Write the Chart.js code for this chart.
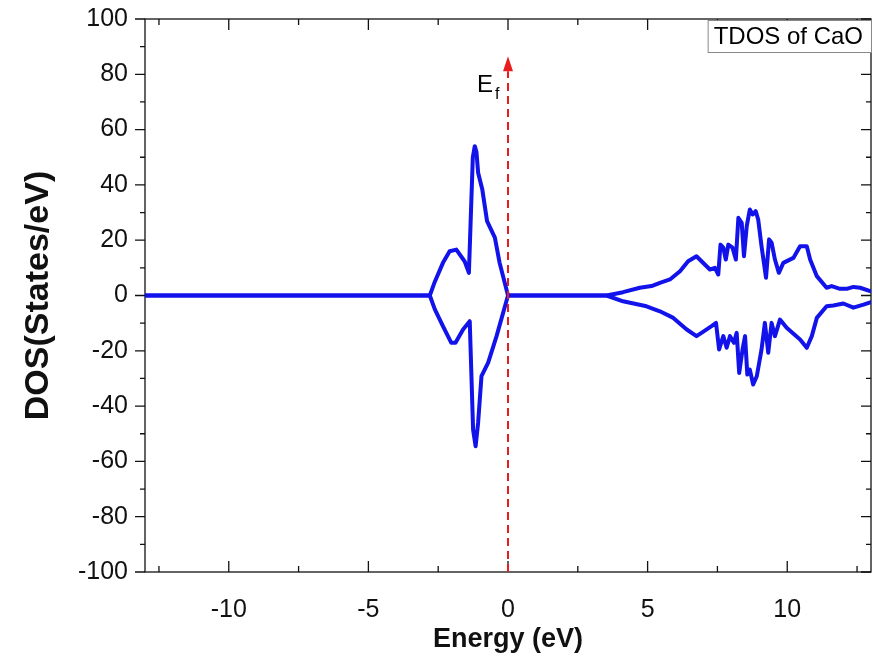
<!DOCTYPE html>
<html>
<head>
  <meta charset="utf-8">
  <title>TDOS of CaO</title>
  <script src="https://cdn.jsdelivr.net/npm/chart.js"></script>
  <style>
    html, body {
      margin: 0;
      padding: 0;
      background-color: #fff;
    }

    #wrap {
      width: 873px;
      height: 661px;
    }

    canvas {
      display: block;
    }
  </style>
</head>
<body>
  <div id="wrap"><canvas id="dosChart"></canvas></div>

  <script>
    // spin up channel (eV, states/eV)
    const energyUp = [-13, -2.80, -2.62, -2.33, -2.09, -1.85, -1.55, -1.40, -1.26, -1.19, -1.13, -1.07, -0.92, -0.75, -0.47, -0.30, 0,
      3.53, 4.12, 4.72, 5.14, 5.44, 5.80, 6.16, 6.45, 6.75, 6.93, 7.23, 7.41, 7.53, 7.61, 7.71, 7.80, 7.89, 8.04, 8.16, 8.25, 8.37, 8.45,
      8.55, 8.66, 8.76, 8.87, 8.96, 9.08, 9.24, 9.35, 9.44, 9.56, 9.70, 9.86, 10.22, 10.46, 10.70, 10.82, 11.06, 11.41, 11.59, 11.89,
      12.13, 12.37, 12.61, 12.97, 13];
    const dosUp = [0, 0, 5, 11.8, 16.0, 16.6, 12.3, 8.2, 50, 54, 52, 44.4, 38.3, 26.9, 20.9, 11.8, 0,
      0, 1.2, 2.8, 3.4, 4.6, 5.8, 8.8, 12.4, 14.2, 12.4, 9.4, 10.0, 7.6, 18.4, 17.3, 13.0, 18.4, 17.3, 13.0, 28.1, 26.3, 14.2,
      25.1, 31.1, 29.3, 30.5, 27.5, 17.8, 6.4, 20.3, 19.1, 13.0, 8.2, 11.8, 13.6, 17.8, 17.8, 13.0, 7.0, 2.8, 3.4, 2.4,
      2.4, 3.1, 2.8, 1.6, 1.5];

    // spin down channel
    const energyDown = [-13, -2.80, -2.62, -2.33, -2.03, -1.88, -1.61, -1.37, -1.25, -1.16, -1.07, -0.95, -0.71, -0.41, 0,
      3.53, 4.12, 4.96, 5.44, 5.92, 6.40, 6.75, 6.93, 7.29, 7.45, 7.56, 7.71, 7.83, 7.95, 8.09, 8.19, 8.28, 8.40, 8.49, 8.57,
      8.66, 8.78, 8.91, 9.08, 9.20, 9.32, 9.44, 9.56, 9.74, 9.98, 10.46, 10.70, 10.88, 11.06, 11.41, 11.65, 12.01, 12.37, 12.73, 13];
    const dosDown = [0, 0, -5, -11.1, -17.1, -17.1, -12.3, -9.3, -48.5, -54.5, -46, -29.2, -24.3, -14.7, 0,
      0, -2.1, -3.9, -5.7, -8.1, -12.3, -14.7, -13.5, -11.1, -9.9, -19.5, -14.7, -18.9, -14.7, -17.1, -13.5, -28.0, -19.5, -14.7, -28.6,
      -26.8, -32.2, -29.2, -19.5, -9.9, -20.7, -9.9, -14.7, -8.7, -11.7, -15.9, -18.9, -14.7, -8.1, -3.9, -3.6, -2.9, -4.4, -3.3, -2.4];

    const xMajorTicks = [-10, -5, 0, 5, 10];
    const xMinorTicks = [-12.5, -7.5, -2.5, 2.5, 7.5, 12.5];
    const yMajorTicks = [-100, -80, -60, -40, -20, 0, 20, 40, 60, 80, 100];
    const yMinorTicks = [-90, -70, -50, -30, -10, 10, 30, 50, 70, 90];

    const fermiLevel = 0;
    const fermiArrowTop = 86.5;
    const legendText = 'TDOS of CaO';

    const FONT = "'Liberation Sans', Arial, sans-serif";
    const BLUE = 'rgb(18, 18, 235)';
    const RED = 'rgb(232, 30, 30)';

    const toPoints = (xs, ys) => xs.map((x, i) => ({ x: x, y: ys[i] }));

    // box with ticks on all four sides (left outward, others inward)
    const framePlugin = {
      id: 'frame',
      beforeDatasetsDraw(chart) {
        const { ctx, chartArea: a, scales } = chart;
        const xs = scales.x, ys = scales.y;
        ctx.save();
        ctx.strokeStyle = '#111';
        ctx.lineWidth = 1.3;
        ctx.strokeRect(a.left, a.top, a.right - a.left, a.bottom - a.top);
        ctx.beginPath();
        const tickX = (vals, len) => vals.forEach(v => {
          const px = xs.getPixelForValue(v);
          ctx.moveTo(px, a.bottom); ctx.lineTo(px, a.bottom - len);
          ctx.moveTo(px, a.top); ctx.lineTo(px, a.top + len);
        });
        const tickY = (vals, len) => vals.forEach(v => {
          const py = ys.getPixelForValue(v);
          ctx.moveTo(a.left, py); ctx.lineTo(a.left - len, py);
          ctx.moveTo(a.right, py); ctx.lineTo(a.right - len, py);
        });
        tickX(xMajorTicks, 11);
        tickX(xMinorTicks, 6);
        tickY(yMajorTicks, 10);
        tickY(yMinorTicks, 5);
        ctx.stroke();
        ctx.restore();
      }
    };

    // dashed Fermi level with arrow head and E_f label
    const fermiPlugin = {
      id: 'fermi',
      afterDatasetsDraw(chart) {
        const { ctx, scales } = chart;
        const x = scales.x.getPixelForValue(fermiLevel);
        const yBottom = scales.y.getPixelForValue(scales.y.min);
        const yTip = scales.y.getPixelForValue(fermiArrowTop);
        const headLen = 15, headHalf = 5;
        ctx.save();
        ctx.strokeStyle = RED;
        ctx.fillStyle = RED;
        ctx.lineWidth = 2;
        ctx.setLineDash([8, 5]);
        ctx.beginPath();
        ctx.moveTo(x, yBottom);
        ctx.lineTo(x, yTip + headLen);
        ctx.stroke();
        ctx.setLineDash([]);
        ctx.beginPath();
        ctx.moveTo(x, yTip);
        ctx.lineTo(x - headHalf, yTip + headLen);
        ctx.lineTo(x + headHalf, yTip + headLen);
        ctx.closePath();
        ctx.fill();

        ctx.fillStyle = '#000';
        ctx.textBaseline = 'alphabetic';
        ctx.textAlign = 'right';
        ctx.font = '24px ' + FONT;
        ctx.fillText('E', x - 15, yTip + 36);
        ctx.textAlign = 'left';
        ctx.font = '16px ' + FONT;
        ctx.fillText('f', x - 13, yTip + 43);
        ctx.restore();
      }
    };

    // boxed label in the upper right corner
    const tagPlugin = {
      id: 'tag',
      afterDraw(chart) {
        const { ctx, chartArea: a } = chart;
        ctx.save();
        ctx.font = '24px ' + FONT;
        const w = ctx.measureText(legendText).width + 14;
        const h = 32;
        const left = a.right - w;
        const top = a.top + 1;
        ctx.fillStyle = '#fff';
        ctx.fillRect(left, top, w, h);
        ctx.strokeStyle = '#888';
        ctx.lineWidth = 1;
        ctx.strokeRect(left + 0.5, top + 0.5, w, h);
        ctx.fillStyle = '#000';
        ctx.textBaseline = 'middle';
        ctx.textAlign = 'left';
        ctx.fillText(legendText, left + 6, top + h / 2 + 1);
        ctx.restore();
      }
    };

    const lineStyle = {
      borderColor: BLUE,
      borderWidth: 4,
      borderJoinStyle: 'round',
      borderCapStyle: 'round',
      pointRadius: 0,
      tension: 0
    };

    const ctx = document.getElementById('dosChart').getContext('2d');
    const chart = new Chart(ctx, {
      type: 'line',
      data: {
        datasets: [
          Object.assign({ label: 'Spin up', data: toPoints(energyUp, dosUp) }, lineStyle),
          Object.assign({ label: 'Spin down', data: toPoints(energyDown, dosDown) }, lineStyle)
        ]
      },
      options: {
        responsive: true,
        maintainAspectRatio: false,
        animation: false,
        layout: {
          padding: { top: 19, right: 2, bottom: 0, left: 0 }
        },
        plugins: {
          legend: { display: false },
          tooltip: { enabled: false }
        },
        scales: {
          x: {
            type: 'linear',
            min: -13,
            max: 13,
            afterBuildTicks: s => { s.ticks = xMajorTicks.map(v => ({ value: v })); },
            afterFit: s => {
              s.height = 89;
              s.paddingLeft = 0;
              s.paddingRight = 0;
            },
            grid: { display: false, drawTicks: false },
            border: { display: false },
            ticks: {
              padding: 23,
              color: '#111',
              maxRotation: 0,
              font: { family: FONT, size: 25 }
            },
            title: {
              display: true,
              text: 'Energy (eV)',
              color: '#111',
              padding: { top: 0, bottom: 5 },
              font: { family: FONT, size: 27, weight: 'bold' }
            }
          },
          y: {
            min: -100,
            max: 100,
            afterBuildTicks: s => { s.ticks = yMajorTicks.map(v => ({ value: v })); },
            afterFit: s => {
              s.width = 145;
              s.paddingTop = 0;
              s.paddingBottom = 0;
            },
            grid: { display: false, drawTicks: false },
            border: { display: false },
            ticks: {
              padding: 17,
              color: '#111',
              font: { family: FONT, size: 25 }
            },
            title: {
              display: true,
              text: 'DOS(States/eV)',
              color: '#111',
              padding: { top: 18, bottom: 0 },
              font: { family: FONT, size: 34, weight: 'bold' }
            }
          }
        }
      },
      plugins: [framePlugin, fermiPlugin, tagPlugin]
    });
  </script>
</body>
</html>
